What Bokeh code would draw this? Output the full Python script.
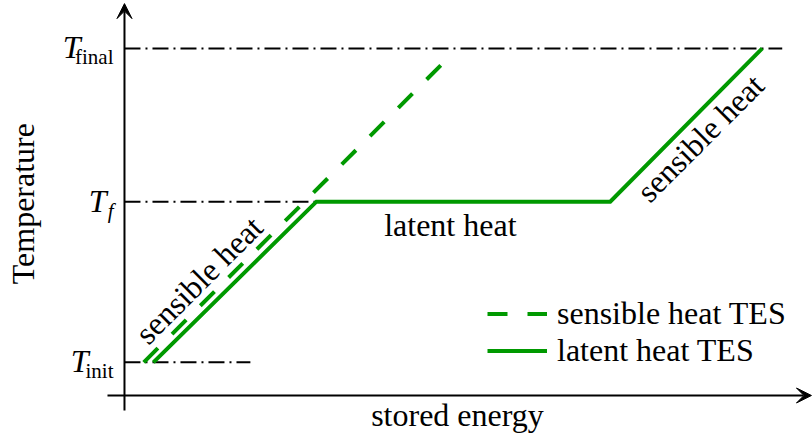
import math
from bokeh.plotting import figure
from bokeh.models import Range1d, Arrow, VeeHead, Legend, LegendItem, ColumnDataSource
from bokeh.core.properties import value
from bokeh.embed import file_html
from bokeh.resources import INLINE

# ---------------- data ----------------
temp_names = ["init", "f", "final"]          # subscripts of the temperature levels
temp_levels = [8.5, 49.7, 89.0]              # T_init, T_f, T_final
ref_line_end = [18.3, 70.6, 95.6]            # where each dash-dot guide ends (energy)

sens_energy = [2.8, 46.4]                    # sensible heat TES
sens_temp = [8.5, 85.4]

lat_energy = [4.2, 27.9, 70.6, 92.7]         # latent heat TES
lat_temp = [8.5, 49.7, 49.7, 89.0]

# ---------------- style ----------------
GREEN = "#009900"
SERIF = "Liberation Serif"
FS = "32px"
X0, X1 = -18.02, 100.0
Y0, Y1 = -10.0, 101.28

p = figure(width=812, height=434, x_range=Range1d(X0, X1), y_range=Range1d(Y0, Y1),
           x_axis_type=None, y_axis_type=None, output_backend="svg",
           toolbar_location=None, min_border=0)
p.grid.visible = False
p.outline_line_color = None
p.background_fill_color = "white"

# dash-dot guide lines
p.segment(x0=[0] * 3, y0=temp_levels, x1=ref_line_end, y1=temp_levels,
          line_color="black", line_width=2, line_dash="16 5 2 5")

# axes with arrow heads
p.add_layout(Arrow(end=VeeHead(size=15, fill_color="black", line_color="black", line_width=1),
                   x_start=-2.47, y_start=0, x_end=X1 - 0.15, y_end=0,
                   line_color="black", line_width=2))
p.add_layout(Arrow(end=VeeHead(size=15, fill_color="black", line_color="black", line_width=1),
                   x_start=0, y_start=-3.85, x_end=0, y_end=Y1 - 0.8,
                   line_color="black", line_width=2))

# curves
sens = p.line(sens_energy, sens_temp, line_color=GREEN, line_width=4, line_dash="20 20")
lat = p.line(lat_energy, lat_temp, line_color=GREEN, line_width=4, line_join="miter")

# tick labels  T_sub
tick_src = ColumnDataSource(dict(
    x=[0] * 3, y=temp_levels, sub=temp_names,
    sub_style=["normal", "italic", "normal"],
    t=["T"] * 3, t_off=[-36, -18, -44]))
p.text(x="x", y="y", text="t", source=tick_src, x_offset="t_off", y_offset=-1,
       text_font=value(SERIF), text_font_style="italic", text_font_size="32px",
       text_align="right", text_baseline="alphabetic", text_color="black")
p.text(x="x", y="y", text="sub", source=tick_src, x_offset=-11, y_offset=9,
       text_font=value(SERIF), text_font_style="sub_style", text_font_size="21px",
       text_align="right", text_baseline="alphabetic", text_color="black")

# in-plot labels
p.text(x=[(lat_energy[0] + lat_energy[1]) / 2], y=[(lat_temp[0] + lat_temp[1]) / 2],
       text=["sensible heat"], angle=math.pi / 4, x_offset=-36, y_offset=-2,
       text_font=value(SERIF), text_font_size=FS, text_align="center",
       text_baseline="middle", text_color="black")
p.text(x=[(lat_energy[2] + lat_energy[3]) / 2], y=[(lat_temp[2] + lat_temp[3]) / 2],
       text=["sensible heat"], angle=math.pi / 4, x_offset=14, y_offset=13,
       text_font=value(SERIF), text_font_size=FS, text_align="center",
       text_baseline="middle", text_color="black")
p.text(x=[(lat_energy[1] + lat_energy[2]) / 2], y=[lat_temp[1]],
       text=["latent heat"], x_offset=-13, y_offset=23,
       text_font=value(SERIF), text_font_size=FS, text_align="center",
       text_baseline="alphabetic", text_color="black")

# axis titles
p.text(x=[X0], y=[temp_levels[1]], text=["Temperature"], angle=math.pi / 2,
       x_offset=22, y_offset=2, text_font=value(SERIF), text_font_size=FS,
       text_align="center", text_baseline="middle", text_color="black")
p.text(x=[X1 / 2], y=[0], text=["stored energy"], x_offset=-11, y_offset=20,
       text_font=value(SERIF), text_font_size=FS, text_align="center",
       text_baseline="alphabetic", text_color="black")

legend = Legend(items=[LegendItem(label="sensible heat TES", renderers=[sens]),
                       LegendItem(label="latent heat TES", renderers=[lat])],
                location=(487, 65.5), padding=0, margin=0, spacing=0,
                glyph_width=60, glyph_height=37, label_height=37, label_standoff=10,
                label_text_font=SERIF, label_text_font_size=FS,
                label_text_color="black",
                border_line_alpha=0, background_fill_alpha=0)
p.add_layout(legend)

open("out.html", "w").write(file_html(p, INLINE))
